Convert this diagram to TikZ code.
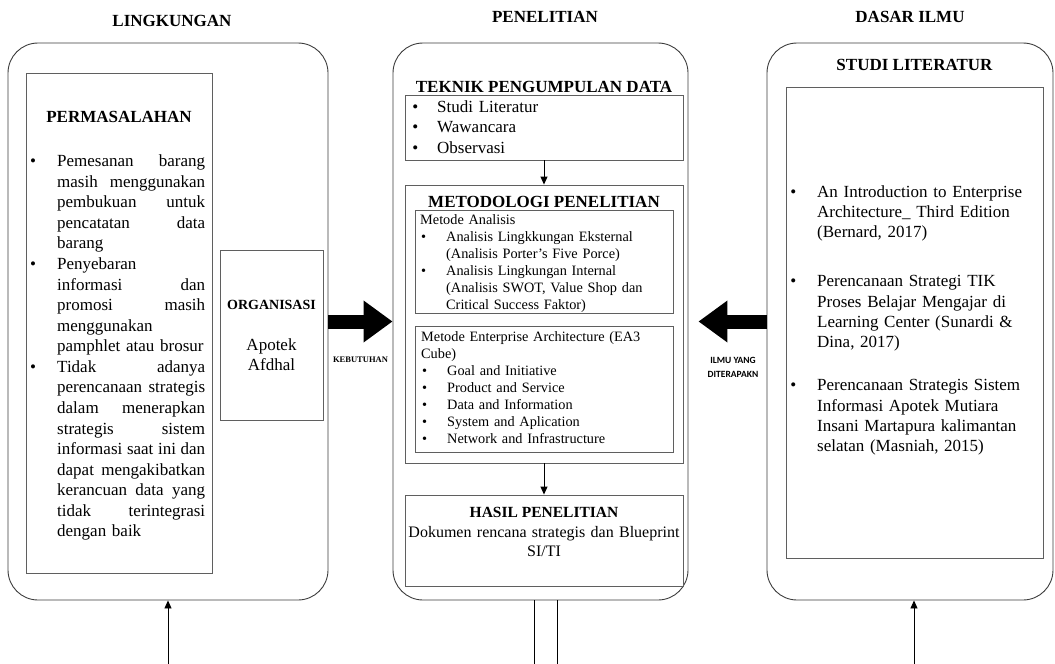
\documentclass[tikz,border=0pt]{standalone}
\usepackage{fontspec}
\setmainfont{Liberation Serif}
\newfontfamily\labelsans{Carlito}
\usetikzlibrary{arrows.meta, positioning, fit, calc}
\definecolor{frameline}{RGB}{60, 60, 60}
\definecolor{boxline}{RGB}{95, 95, 95}
\newcommand{\fsz}[2]{\fontsize{#1pt}{#2pt}\selectfont}
\newcommand{\jline}[1]{\leavevmode\hbox to \linewidth{\spaceskip=0.25em plus 1fil\relax #1}}
\newcommand{\bul}[1][21pt]{\leavevmode\llap{\textbullet\hspace{#1}}}
\tikzset{
    panel/.style={rectangle, rounded corners=30pt, draw=frameline, line width=0.9pt, inner sep=0pt},
    frame/.style={rectangle, draw=boxline, line width=0.9pt, inner sep=0pt},
    title/.style={anchor=base, inner sep=0pt, font=\fsz{17}{20}\bfseries},
    textblock/.style={anchor=base west, inner sep=0pt, align=left},
    flow/.style={-{Triangle[length=8pt, width=7pt]}, line width=0.9pt},
    link/.style={line width=0.9pt},
    blockarrow/.style={line width=14pt, -{Triangle[length=29pt, width=40pt]}},
    tag/.style={inner sep=0pt, font=\fsz{8.5}{10}\bfseries}
}

\begin{document}
\begin{tikzpicture}[x=1pt, y=-1pt]
    \useasboundingbox (0,0) rectangle (1055,664);

    \node[panel, fit={(8,43) (328,600)}] (lingk) {};
    \node[panel, fit={(393,43) (688,600)}] (penel) {};
    \node[panel, fit={(767,43) (1053,600)}] (dasar) {};
    \node[title] (tlingk) at (172,26.5) {LINGKUNGAN};
    \node[title] (tpenel) at (545,22.7) {PENELITIAN};
    \node[title] (tdasar) at (910,22.7) {DASAR ILMU};

    % lingkungan
    \node[frame, fit={(26,73) (212,573)}] (perm) {};
    \node[title] (tperm) at (perm.north |- 0,122.7) {PERMASALAHAN};
    \node[textblock, text width=148pt, font=\fsz{17}{20.57}] (permtext) at (57,166.6) {%
        \bul\jline{Pemesanan barang}\\
        \jline{masih menggunakan}\\
        \jline{pembukuan untuk}\\
        \jline{pencatatan data}\\
        barang\\
        \bul Penyebaran\\
        \jline{informasi dan}\\
        \jline{promosi masih}\\
        menggunakan\\
        pamphlet atau brosur\\
        \bul\jline{Tidak adanya}\\
        \jline{perencanaan strategis}\\
        \jline{dalam menerapkan}\\
        \jline{strategis sistem}\\
        \jline{informasi saat ini dan}\\
        \jline{dapat mengakibatkan}\\
        \jline{kerancuan data yang}\\
        \jline{tidak terintegrasi}\\
        dengan baik};
    \node[frame, fit={(220,250) (323,420)}] (org) {};
    \node[title, font=\fsz{14}{17}\bfseries] (torg) at (org.north |- 0,309) {ORGANISASI};
    \node[textblock, anchor=base, align=center, text width=100pt, font=\fsz{17}{20}] (orgname) at (org.north |- 0,350) {Apotek\\Afdhal};

    % penelitian
    \node[title] (ttek) at (544,92.3) {TEKNIK PENGUMPULAN DATA};
    \node[frame, fit={(405,95) (683,160)}] (teknik) {};
    \node[textblock, text width=230pt, font=\fsz{17}{20.5}] (tektext) at (437,112.3) {\bul[19pt]Studi Literatur\\\bul[19pt]Wawancara\\\bul[19pt]Observasi};
    \node[frame, fit={(405,185) (683,463)}] (metod) {};
    \node[title] (tmet) at (544,207.3) {METODOLOGI PENELITIAN};
    \node[frame, fit={(415,210) (673,313)}] (anal) {};
    \node[textblock, text width=240pt, font=\fsz{14.3}{17}] (analhead) at (420,224) {Metode Analisis};
    \node[textblock, text width=222pt, font=\fsz{14.3}{17}] (anallist) at (446,241) {%
        \bul[20pt]Analisis Lingkkungan Eksternal\\
        (Analisis Porter’s Five Porce)\\
        \bul[20pt]Analisis Lingkungan Internal\\
        (Analisis SWOT, Value Shop dan\\
        Critical Success Faktor)};
    \node[frame, fit={(415,326) (673,452)}] (eacube) {};
    \node[textblock, text width=245pt, font=\fsz{14.3}{17.05}] (eahead) at (421,341.7) {Metode Enterprise Architecture (EA3\\Cube)};
    \node[textblock, text width=220pt, font=\fsz{14.3}{17.05}] (ealist) at (447,375.7) {%
        \bul[20pt]Goal and Initiative\\
        \bul[20pt]Product and Service\\
        \bul[20pt]Data and Information\\
        \bul[20pt]System and Aplication\\
        \bul[20pt]Network and Infrastructure};
    \node[frame, fit={(405,495) (683,586)}] (hasil) {};
    \node[title, font=\fsz{15.5}{19}\bfseries] (thasil) at (544,517.3) {HASIL PENELITIAN};
    \node[textblock, anchor=base, align=center, text width=275pt, font=\fsz{16}{19}] (hasiltext) at (544,537.3) {Dokumen rencana strategis dan Blueprint\\SI/TI};

    % dasar ilmu
    \node[title] (tstudi) at (914.5,70.7) {STUDI LITERATUR};
    \node[frame, fit={(786,87) (1043,558)}] (studi) {};
    \node[textblock, text width=215pt, font=\fsz{17}{20.3}] (ref1) at (817,197) {\bul An Introduction to Enterprise\\Architecture\_ Third Edition\\(Bernard, 2017)};
    \node[textblock, text width=215pt, font=\fsz{17}{20.3}] (ref2) at (817,286.7) {\bul Perencanaan Strategi TIK\\Proses Belajar Mengajar di\\Learning Center (Sunardi \&\\Dina, 2017)};
    \node[textblock, text width=215pt, font=\fsz{17}{20.3}] (ref3) at (817,390.7) {\bul Perencanaan Strategis Sistem\\Informasi Apotek Mutiara\\Insani Martapura kalimantan\\selatan (Masniah, 2015)};

    \draw[flow] (teknik) -- (metod);
    \draw[flow] (metod) -- (hasil);
    \draw[blockarrow] (lingk.east) -- (penel.west) node[tag, midway, yshift=-38.5pt] (need) {KEBUTUHAN};
    \draw[blockarrow, shorten >=10pt] (dasar.west) -- (penel.east) node[tag, midway, align=center, xshift=5.5pt, yshift=-46pt, font=\labelsans\fsz{9.5}{14.5}\bfseries] (apply) {ILMU YANG\\DITERAPAKN};

    \coordinate (inlingk) at (168,664);
    \coordinate (indasar) at (914,664);
    \coordinate (outa) at (534,664);
    \coordinate (outb) at (557,664);
    \draw[flow] (inlingk) -- (lingk.south);
    \draw[flow] (indasar) -- (indasar |- dasar.south);
    \draw[link] (outa |- penel.south) -- (outa);
    \draw[link] (outb |- penel.south) -- (outb);
\end{tikzpicture}
\end{document}
